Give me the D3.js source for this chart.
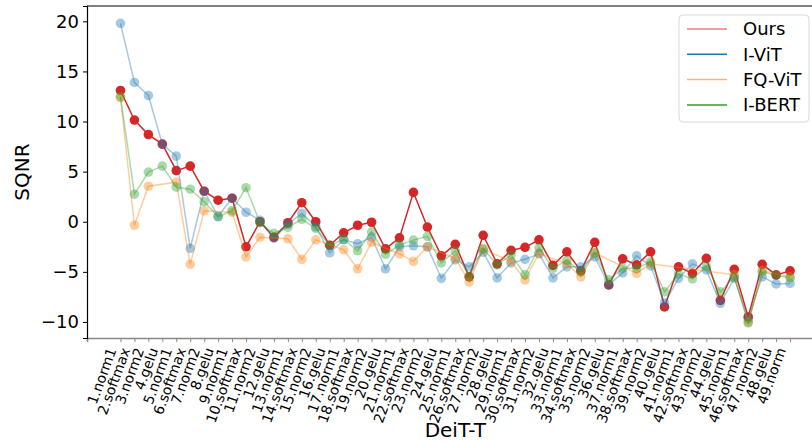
<!DOCTYPE html>
<html>
<head>
<meta charset="utf-8">
<script src="https://cdn.jsdelivr.net/npm/d3@7"></script>
<style>
  body { margin: 0; background: white; }
  text { font-family: "DejaVu Sans", sans-serif; }
</style>
</head>
<body>
<div id="canvas"></div>
<script>
// layer names along the x axis
var layers = ["1.norm1","2.softmax","3.norm2","4.gelu","5.norm1","6.softmax","7.norm2","8.gelu",
  "9.norm1","10.softmax","11.norm2","12.gelu","13.norm1","14.softmax","15.norm2","16.gelu",
  "17.norm1","18.softmax","19.norm2","20.gelu","21.norm1","22.softmax","23.norm2","24.gelu",
  "25.norm1","26.softmax","27.norm2","28.gelu","29.norm1","30.softmax","31.norm2","32.gelu",
  "33.norm1","34.softmax","35.norm2","36.gelu","37.norm1","38.softmax","39.norm2","40.gelu",
  "41.norm1","42.softmax","43.norm2","44.gelu","45.norm1","46.softmax","47.norm2","48.gelu",
  "49.norm"];

var ours = [13.1,10.15,8.7,7.75,5.1,5.55,3.05,2.15,2.35,-2.5,0.0,-1.55,-0.1,1.9,0.0,-2.35,
  -1.1,-0.35,-0.05,-2.7,-1.6,2.93,-0.53,-3.4,-2.25,-5.5,-1.35,-4.2,-2.85,-2.55,-1.8,-4.35,
  -3.0,-4.9,-2.05,-6.3,-3.7,-4.3,-3.0,-8.5,-4.5,-5.15,-3.65,-7.85,-4.75,-9.5,-4.25,-5.3,-4.9];

var ivit = [19.8,13.9,12.6,7.75,6.55,-2.65,3.05,0.55,2.35,0.95,0.15,-1.65,-0.25,0.85,-0.5,-3.1,
  -1.8,-2.2,-1.55,-4.7,-2.5,-2.4,-2.5,-5.65,-3.8,-4.5,-3.05,-5.6,-4.1,-3.75,-3.2,-5.6,
  -4.5,-4.5,-3.5,-6.3,-5.1,-3.4,-4.4,-8.1,-5.65,-4.2,-4.8,-8.15,-5.65,-9.7,-5.5,-6.2,-6.15];

// FQ-ViT has no value for the gelu layers (and a few others)
var fqvit = [12.4,-0.35,3.55,null,3.95,-4.25,1.1,null,0.95,-3.5,-1.55,null,-1.7,-3.75,-1.8,null,
  -2.8,-4.7,-2.05,null,-3.2,-3.95,-2.5,null,-3.65,-6.0,-2.75,null,-3.95,-5.8,-3.15,null,
  -4.2,-5.5,-3.1,null,null,-5.15,-4.2,null,null,null,null,null,-5.3,-10.0,-4.9,null,-5.5];

var ibert = [12.5,2.75,4.95,5.55,3.45,3.25,2.0,0.5,1.1,3.4,-0.1,-1.15,-0.55,0.25,-0.65,-2.35,
  -1.75,-2.9,-1.0,-3.25,-2.3,-1.83,-1.46,-4.1,-2.9,-5.5,-2.7,-4.3,-3.3,-5.3,-2.6,-4.65,
  -3.85,-5.0,-3.1,-5.8,-4.65,-4.65,-4.0,-7.0,-5.2,-5.7,-4.45,-7.0,-5.5,-10.1,-5.0,-5.35,-5.6];

var yTicks = [-10, -5, 0, 5, 10, 15, 20];

var series = [
  {name: "Ours",   values: ours,  color: "#d62728", op: 1,   legOp: 0.6},
  {name: "I-ViT",  values: ivit,  color: "#1f77b4", op: 0.4, legOp: 1},
  {name: "FQ-ViT", values: fqvit, color: "#ff7f0e", op: 0.4, legOp: 0.6},
  {name: "I-BERT", values: ibert, color: "#2ca02c", op: 0.4, legOp: 1}
];

draw();

function draw(){
  var w = 812, h = 445;
  var left = 87, top = 6, bottom = 338;

  var svg = d3.select("#canvas").append("svg")
        .attr("width", w)
        .attr("height", h);

  // same 5% padding that matplotlib gives
  var xScale = d3.scaleLinear()
        .domain([1 - 2.4, layers.length + 2.4])
        .range([left, left + 52.8 * 13.95]);
  var yScale = d3.scaleLinear()
        .domain([-11.6, 21.53])
        .range([bottom, top]);

  var xAxis = d3.axisBottom(xScale)
        .tickValues(d3.range(1, layers.length + 1))
        .tickFormat("")
        .tickSize(4);
  var gx = svg.append("g")
        .attr("transform", "translate(0," + bottom + ")")
        .call(xAxis);
  gx.select(".domain").attr("stroke", "#888").attr("stroke-width", 1.6);
  gx.selectAll(".tick line").attr("stroke", "#888");

  gx.selectAll(".lbl")
    .data(layers)
    .join("text")
      .attr("class", "lbl")
      .attr("transform", function(d, i){
        return "translate(" + (xScale(i + 1) - 4) + ",12) rotate(-70)";
      })
      .attr("text-anchor", "end")
      .attr("font-size", 14)
      .attr("fill", "black")
      .text(function(d){ return d; });

  var yAxis = d3.axisLeft(yScale)
        .tickValues(yTicks)
        .tickFormat(function(d){ return d < 0 ? "\u2212" + Math.abs(d) : d; })
        .tickSize(4)
        .tickPadding(4);
  var gy = svg.append("g")
        .attr("transform", "translate(" + left + ",0)")
        .call(yAxis);
  gy.select(".domain").attr("stroke", "black").attr("stroke-width", 1.2);
  gy.selectAll(".tick text").attr("font-size", 18).attr("font-family", "DejaVu Sans").attr("fill", "black");

  // top spine
  svg.append("line")
    .attr("x1", left).attr("x2", w)
    .attr("y1", top).attr("y2", top)
    .attr("stroke", "black").attr("stroke-width", 1.2);

  var line = d3.line()
        .x(function(d){ return xScale(d.i); })
        .y(function(d){ return yScale(d.v); });

  series.forEach(function(s){
    // skip the missing layers, the line just joins the next known one
    var pts = s.values.map(function(v, i){ return {i: i + 1, v: v}; })
                .filter(function(d){ return d.v !== null; });
    var g = svg.append("g");
    g.append("path")
      .datum(pts)
      .attr("d", line)
      .attr("fill", "none")
      .attr("stroke", s.color)
      .attr("stroke-width", 1.5)
      .attr("stroke-opacity", s.op);
    g.selectAll("circle")
      .data(pts)
      .join("circle")
        .attr("cx", function(d){ return xScale(d.i); })
        .attr("cy", function(d){ return yScale(d.v); })
        .attr("r", 4.8)
        .attr("fill", s.color)
        .attr("fill-opacity", s.op);
  });

  svg.append("text")
    .attr("x", (left + left + 52.8 * 13.95) / 2)
    .attr("y", 437)
    .attr("text-anchor", "middle")
    .attr("font-size", 20)
    .text("DeiT-T");

  svg.append("text")
    .attr("transform", "translate(29," + ((top + bottom) / 2) + ") rotate(-90)")
    .attr("text-anchor", "middle")
    .attr("font-size", 20)
    .text("SQNR");

  // legend
  var leg = svg.append("g").attr("transform", "translate(679,15)");
  leg.append("rect")
    .attr("width", 130).attr("height", 107)
    .attr("rx", 4)
    .attr("fill", "white").attr("fill-opacity", 0.8)
    .attr("stroke", "#d9d9d9");
  var rows = leg.selectAll(".row")
    .data(series)
    .join("g")
      .attr("class", "row")
      .attr("transform", function(d, i){ return "translate(0," + (14 + i * 25.3) + ")"; });
  rows.append("line")
    .attr("x1", 8).attr("x2", 48)
    .attr("stroke", function(d){ return d.color; })
    .attr("stroke-opacity", function(d){ return d.legOp; })
    .attr("stroke-width", 1.5);
  rows.append("text")
    .attr("x", 64).attr("dy", "0.35em")
    .attr("font-size", 18)
    .text(function(d){ return d.name; });
}
</script>
</body>
</html>
